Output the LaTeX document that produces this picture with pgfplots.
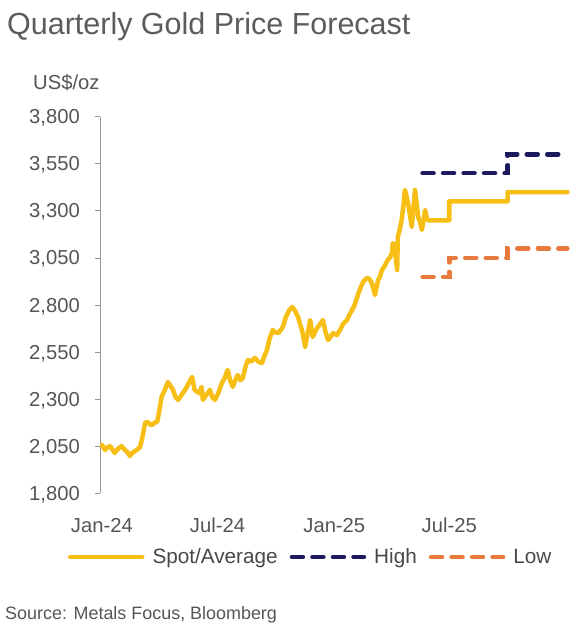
\documentclass[border=0pt]{standalone}
\usepackage{pgfplots}
\pgfplotsset{compat=1.18}
\usepackage{fontspec}
\setmainfont{Liberation Sans}
\definecolor{goldc}{RGB}{247,190,22}
\definecolor{navyc}{RGB}{28,26,94}
\definecolor{orangec}{RGB}{232,122,62}
\definecolor{axisgray}{RGB}{150,150,150}
\definecolor{ticktext}{RGB}{85,85,85}
\definecolor{legtext}{RGB}{72,72,72}
\definecolor{titlec}{RGB}{92,92,92}
\begin{document}
\begin{tikzpicture}
\useasboundingbox (-100bp,-133.7bp) rectangle (480bp,493.3bp);
\begin{axis}[
  at={(0,0)}, anchor=south west,
  scale only axis, width=471.8bp, height=376.6bp,
  xmin=-3, xmax=740, ymin=1800, ymax=3800,
  axis lines=left,
  axis line style={-, draw=axisgray, line width=0.8bp},
  x axis line style={draw=none},
  xtick={0,182,366,547},
  xticklabels={Jan-24,Jul-24,Jan-25,Jul-25},
  xtick style={draw=none},
  ytick={1800,2050,2300,2550,2800,3050,3300,3550,3800},
  ytick style={draw=axisgray, line width=0.8bp},
  tick align=outside, major tick length=5bp,
  /pgf/number format/assume math mode=true,
  /pgf/number format/1000 sep={,},
  yticklabel style={anchor=east, inner sep=0pt, text depth=0pt, xshift=-15bp,
     font=\fontsize{20.3}{24}\selectfont, text=ticktext},
  xticklabel style={anchor=base, inner sep=0pt, yshift=-33.7bp,
     font=\fontsize{20.3}{24}\selectfont, text=ticktext},
  clip=false,
  legend columns=3,
  legend cell align=left,
  legend style={at={(axis description cs:-0.0678,-0.1691)}, anchor=west,
     draw=none, fill=none, inner sep=0pt, outer sep=0pt,
     column sep=0pt,
     nodes={inner sep=0pt, font=\fontsize{20.8}{24}\selectfont, text=legtext},
     /tikz/every even column/.append style={column sep=12bp}},
  legend image code/.code={\draw[#1] (0bp,0bp) -- (72bp,0bp); \path (80bp,0bp);},
]
\addplot[goldc, line width=4.5bp, line join=round, line cap=round] coordinates {
(0,2057)(3,2040)(5,2030)(9,2045)(13,2051)(17,2030)(20,2014)(25,2035)(31,2051)
(36,2030)(40,2020)(44,1998)(48,2015)(55,2030)(60,2046)(64,2100)(68,2174)
(72,2179)(76,2165)(79,2163)(83,2175)(87,2179)(90,2230)(94,2312)(98,2340)
(104,2391)(108,2370)(112,2349)(116,2310)(120,2296)(125,2320)(131,2349)
(136,2380)(142,2418)(146,2349)(150,2340)(154,2330)(157,2365)(159,2296)
(164,2320)(170,2349)(174,2310)(178,2296)(183,2330)(189,2386)(193,2410)
(198,2455)(202,2400)(206,2365)(210,2400)(214,2428)(218,2400)(222,2413)
(226,2470)(230,2508)(235,2500)(241,2519)(246,2500)(252,2492)(256,2530)
(260,2561)(264,2620)(269,2667)(273,2655)(278,2651)(282,2670)(285,2683)
(289,2730)(295,2773)(300,2789)(304,2770)(309,2736)(312,2700)(315,2667)
(318,2620)(320,2577)(324,2650)(328,2720)(332,2630)(336,2660)(340,2683)
(344,2700)(348,2720)(352,2660)(356,2614)(360,2630)(364,2651)(370,2640)
(375,2667)(380,2700)(386,2720)(390,2750)(394,2773)(398,2800)(402,2842)
(406,2880)(409,2906)(413,2930)(417,2943)(421,2940)(425,2916)(428,2880)
(430,2853)(433,2900)(435,2933)(438,2950)(441,2986)(444,3000)(446,3012)
(450,3039)(453,3050)(457,3076)(458,3129)(461,3100)(463,3040)(465,2986)
(466,3161)(469,3200)(472,3252)(475,3330)(477,3411)(479,3390)(482,3342)
(485,3280)(488,3214)(491,3330)(493,3411)(496,3330)(498,3268)(501,3240)
(504,3199)(507,3260)(509,3305)(511,3270)(513,3250)
(547,3250)(547,3350)(639,3350)(639,3400)(733,3400)
};
\addlegendentry{Spot/Average}
\addplot[navyc, line width=4.5bp, line cap=round, dash pattern=on 11bp off 9.5bp] coordinates {
(505,3500)(639,3500)(639,3600)(733,3600)
};
\addlegendentry{High}
\addplot[orangec, line width=4.5bp, line cap=round, dash pattern=on 11bp off 9.5bp] coordinates {
(505,2950)(547,2950)(547,3050)(639,3050)(639,3100)(733,3100)
};
\addlegendentry{Low}
\end{axis}
\node[anchor=base west, inner sep=0pt, text=titlec, font=\fontsize{30.6}{36}\selectfont] at (-93bp,458.3bp) {Quarterly Gold Price Forecast};
\node[anchor=base west, inner sep=0pt, text=ticktext, font=\fontsize{20.3}{24}\selectfont] at (-67bp,404bp) {US\$/oz};
\node[anchor=base west, inner sep=0pt, text=ticktext, font=\fontsize{18}{22}\selectfont] at (-95bp,-126bp) {Source: Metals Focus, Bloomberg};
\end{tikzpicture}
\end{document}
